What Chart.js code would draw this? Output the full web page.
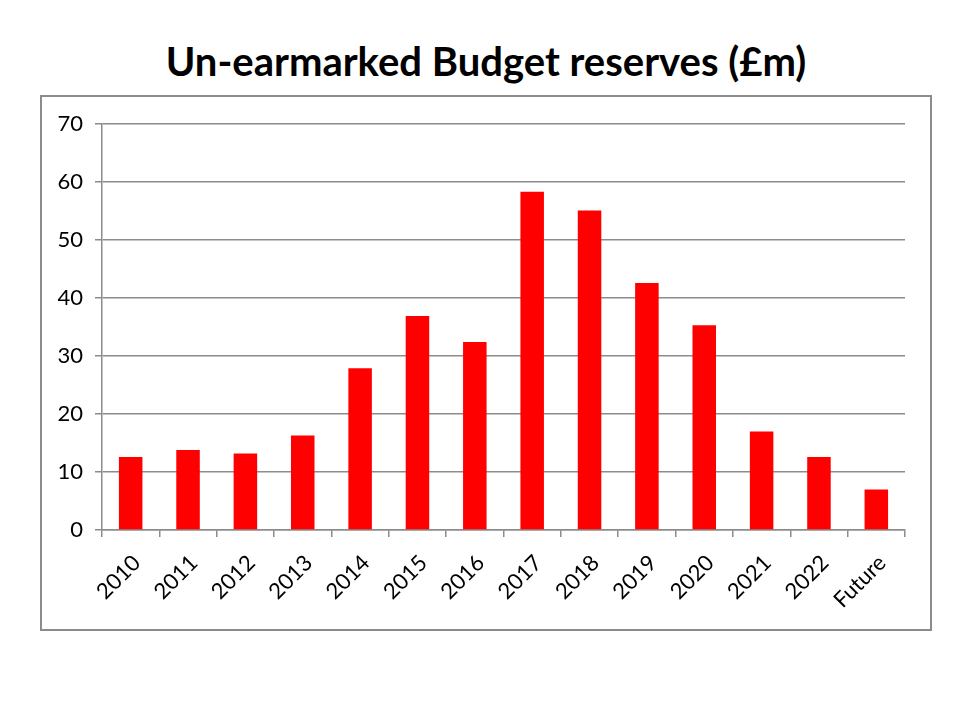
<!DOCTYPE html>
<html>
<head>
<meta charset="utf-8">
<script src="https://cdn.jsdelivr.net/npm/chart.js@4.4.0/dist/chart.umd.min.js"></script>
<style>
  body { margin: 0; background: #fff; width: 960px; height: 720px; position: relative; }
  #title {
    position: absolute; left: 0; top: 37px; width: 972px; text-align: center;
    font-family: Lato, "Open Sans", sans-serif; font-weight: bold; font-size: 40px; color: #000;
  }
  #frame {
    position: absolute; left: 40px; top: 95px; width: 888px; height: 532px;
    border: 2px solid #8c8c8c;
  }
</style>
</head>
<body>
<div id="title">Un-earmarked Budget reserves (£m)</div>
<div id="frame"><canvas id="chart"></canvas></div>
<script>
// years along the bottom
const categories = ['2010', '2011', '2012', '2013', '2014', '2015', '2016',
                    '2017', '2018', '2019', '2020', '2021', '2022', 'Future'];
// reserves, £m
const reserves = [12.6, 13.8, 13.2, 16.3, 27.9, 36.9, 32.4,
                  58.3, 55.1, 42.6, 35.3, 17.0, 12.6, 7.0];
const yTicks = [0, 10, 20, 30, 40, 50, 60, 70];

const gridGrey = '#8c8c8c';
const tickFont = { family: 'Lato, "Open Sans", sans-serif', size: 22 };

const ctx = document.getElementById('chart');
new Chart(ctx, {
    type: 'bar',
    data: {
        labels: categories,
        datasets: [{
            data: reserves,
            backgroundColor: '#ff0000',
            borderWidth: 0,
            barPercentage: 0.41,
            categoryPercentage: 1.0,
        }],
    },
    options: {
        responsive: true,
        maintainAspectRatio: false,
        animation: false,
        layout: { padding: { left: 0, top: 27, right: 25, bottom: 0 } },
        plugins: {
            legend: { display: false },
            tooltip: { enabled: false },
        },
        scales: {
            x: {
                grid: { display: true, drawOnChartArea: false, drawTicks: true, tickLength: 7, color: gridGrey, lineWidth: 1.5 },
                border: { display: true, color: gridGrey, width: 1.5 },
                ticks: {
                    minRotation: 45, maxRotation: 45, autoSkip: false,
                    color: '#000', padding: 13, labelOffset: 6,
                    font: tickFont,
                },
                afterFit: (axis) => { axis.height = 99; },
            },
            y: {
                min: 0, max: 70,
                afterBuildTicks: (axis) => { axis.ticks = yTicks.map(v => ({ value: v })); },
                grid: { color: gridGrey, lineWidth: 1.5, tickLength: 7 },
                border: { display: true, color: gridGrey, width: 1.5 },
                ticks: {
                    color: '#000', padding: 12,
                    font: tickFont,
                },
                afterFit: (axis) => { axis.width = 60; },
            },
        },
    },
});
</script>
</body>
</html>
